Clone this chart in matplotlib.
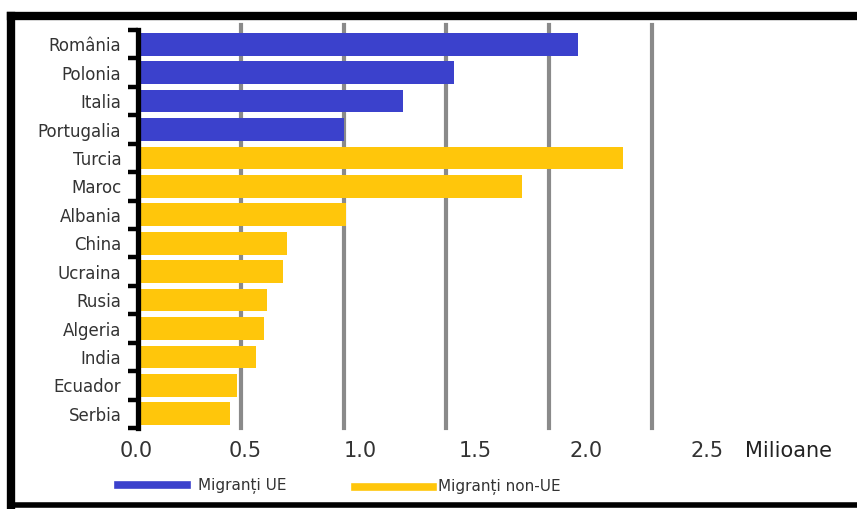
import matplotlib.pyplot as plt
from matplotlib.lines import Line2D
from matplotlib.transforms import blended_transform_factory
import numpy as np

# date: migranti in UE, milioane
tari = ['România', 'Polonia', 'Italia', 'Portugalia', 'Turcia', 'Maroc', 'Albania',
        'China', 'Ucraina', 'Rusia', 'Algeria', 'India', 'Ecuador', 'Serbia']
valori = [2.14, 1.54, 1.29, 1.00, 2.36, 1.87, 1.01, 0.725, 0.705, 0.63, 0.615, 0.575, 0.48, 0.45]
grup = ['UE', 'UE', 'UE', 'UE'] + ['non-UE'] * 10
gridlines = [0.5, 1.0, 1.5, 2.0, 2.5]
etichete_x = ['0.0', '0.5', '1.0', '1.5', '2.0', '2.5']
poz_etichete_x = [-0.01, 0.52, 1.08, 1.64, 2.18, 2.77]  # etichetele din imagine nu stau pe grila

albastru = '#3b41cc'
galben = '#ffc60b'
culori = {'UE': albastru, 'non-UE': galben}

plt.rcParams['font.family'] = ['DejaVu Sans']

fig = plt.figure(figsize=(8.57, 5.09), dpi=100)
W, H = 857, 509
ax = fig.add_axes([138 / W, 1 - 428 / H, (W - 138) / W, 398 / H])

y = np.arange(len(tari))
ax.barh(y, valori, height=0.8, color=[culori[g] for g in grup], zorder=2)
for g in gridlines:
    ax.axvline(g, ymin=0, ymax=1.012, color='#8a8a8a', lw=3, zorder=1, clip_on=False)

ax.set_xlim(0, (W - 138) / 205.5)
ax.set_ylim(len(tari) - 0.5, -0.5)

for s in ['top', 'right', 'bottom']:
    ax.spines[s].set_visible(False)
ax.spines['left'].set_linewidth(3.8)
ax.spines['left'].set_color('black')
ax.spines['left'].set_zorder(5)

ax.set_yticks(y)
ax.set_yticklabels(tari, fontsize=12, color='#333333')
ax.tick_params(axis='y', which='major', length=0, pad=12)
ax.set_yticks(np.arange(len(tari) + 1) - 0.5, minor=True)
ax.tick_params(axis='y', which='minor', length=7, width=3.2, color='black')
ax.set_xticks([])

tr = blended_transform_factory(ax.transData, fig.transFigure)
for p, t in zip(poz_etichete_x, etichete_x):
    ax.text(p, 1 - 451 / H, t, transform=tr, ha='center', va='center', fontsize=15, color='#333333')
fig.text(745 / W, 1 - 451 / H, 'Milioane', ha='left', va='center', fontsize=15, color='#222222')

# legenda
fig.add_artist(Line2D([118 / W, 187 / W], [1 - 485 / H] * 2, color=albastru, lw=5.5))
fig.text(198 / W, 1 - 486 / H, 'Migranți UE', ha='left', va='center', fontsize=11, color='#333333')
fig.add_artist(Line2D([355 / W, 433 / W], [1 - 487 / H] * 2, color=galben, lw=5.5))
fig.text(438 / W, 1 - 487 / H, 'Migranți non-UE', ha='left', va='center', fontsize=11, color='#333333')

# chenarul negru
fig.add_artist(Line2D([11 / W, 1], [1 - 16 / H] * 2, color='black', lw=6))
fig.add_artist(Line2D([11 / W] * 2, [1 - 16 / H, 1 - 505 / H], color='black', lw=6))
fig.add_artist(Line2D([11 / W, 1], [1 - 505 / H] * 2, color='black', lw=4))

fig.savefig('out.png', dpi=100)
